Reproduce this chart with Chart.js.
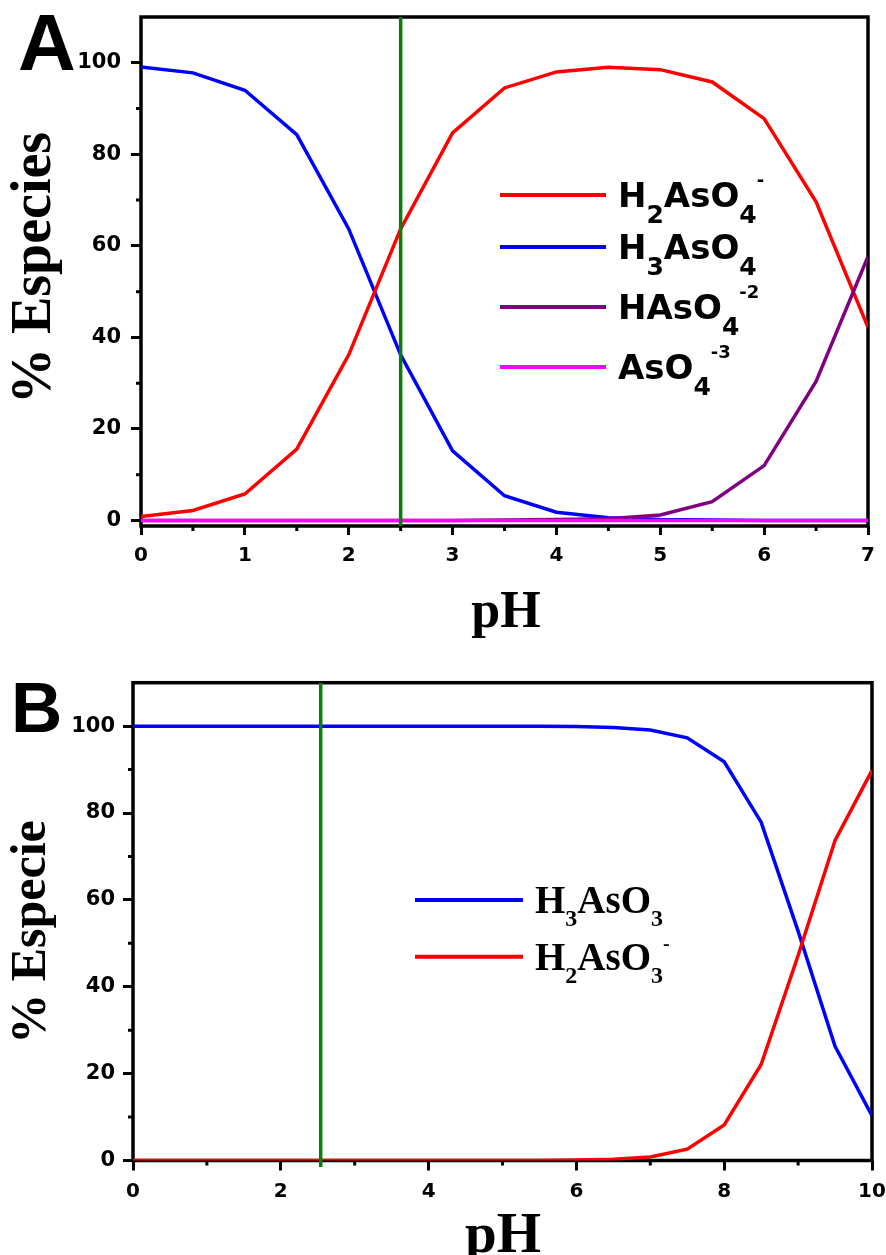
<!DOCTYPE html>
<html>
<head>
<meta charset="utf-8">
<title>Especies de arsénico vs pH</title>
<script src="https://cdn.jsdelivr.net/npm/chart.js@4.4.1/dist/chart.umd.min.js"></script>
<style>
  html, body { margin: 0; padding: 0; background: #fff; }
  #wrap { position: relative; width: 886px; height: 1255px; overflow: hidden; }
  canvas { position: absolute; left: 0; }
  #chartA { top: 0; }
  #chartB { top: 640px; }
</style>
</head>
<body>
<div id="wrap">
  <canvas id="chartA" width="886" height="640"></canvas>
  <canvas id="chartB" width="886" height="615"></canvas>
</div>
<script>
// ── DATI: arseniato (A) ─────────────────────
const phA = [0, 0.5, 1, 1.5, 2, 2.5, 3, 3.5, 4, 4.5, 5, 5.5, 6, 6.5, 7];
const h2aso4 = [0.9, 2.2, 5.8, 15.6, 36.2, 63.7, 84.7, 94.5, 98.0, 99.0, 98.5, 95.8, 87.8, 69.6, 42.2];
const h3aso4 = [99.1, 97.8, 94.0, 84.3, 63.7, 36.2, 15.2, 5.4, 1.8, 0.6, 0.2, 0.1, 0.0, 0.0, 0.0];
const haso4  = [0, 0, 0, 0, 0, 0, 0, 0.1, 0.2, 0.4, 1.2, 4.1, 12.0, 30.4, 57.7];
const aso4   = [0, 0, 0, 0, 0, 0, 0, 0, 0, 0, 0, 0, 0, 0, 0];
const markA  = { x: [2.5, 2.5], y: [-1.2, 110] };

const xTicksA = [0, 1, 2, 3, 4, 5, 6, 7];
const xMinorA = [0.5, 1.5, 2.5, 3.5, 4.5, 5.5, 6.5];
const yRangeA = [-1.2, 110];

// ── DATI: arsenito (B) ──────────────────────
const phB = [0, 0.5, 1, 1.5, 2, 2.5, 3, 3.5, 4, 4.5, 5, 5.5, 6, 6.5, 7, 7.5, 8, 8.5, 9, 9.5, 10];
const h3aso3 = [100, 100, 100, 100, 100, 100, 100, 100, 100, 100, 100, 100, 99.9, 99.7, 99.1, 97.3, 91.8, 77.9, 52.8, 26.3, 10.3];
const h2aso3 = [0, 0, 0, 0, 0, 0, 0, 0, 0, 0, 0, 0, 0.1, 0.3, 0.8, 2.6, 8.2, 22.1, 47.2, 73.7, 89.8];
const markB  = { x: [2.54, 2.54], y: [-1.5, 110] };

const xTicksB = [0, 2, 4, 6, 8, 10];
const xMinorB = [1, 3, 5, 7, 9];
const yRangeB = [0, 110];

const yTicks = [0, 20, 40, 60, 80, 100];
const yMinor = [10, 30, 50, 70, 90];

const SANS = '"DejaVu Sans", sans-serif';
const SERIF = '"Liberation Serif", "Times New Roman", serif';

// ── UTILITY ─────────────────────────────────

function pts(xs, ys) {
  return xs.map((x, i) => ({ x: x, y: ys[i] }));
}

function serie(label, xs, ys, color, order) {
  return {
    label: label,
    data: pts(xs, ys),
    borderColor: color,
    backgroundColor: color,
    borderWidth: 3.5,
    pointRadius: 0,
    tension: 0,
    order: order
  };
}

// testo con pedici / apici: parts = [[testo, 'sub'|'sup'|'']]
function drawFormula(ctx, parts, x, base, f) {
  let cx = x;
  parts.forEach(([t, kind]) => {
    const size = kind === 'sub' ? f.sub : kind === 'sup' ? f.sup : f.size;
    const dy = kind === 'sub' ? f.subDy : kind === 'sup' ? f.supDy : 0;
    ctx.font = 'bold ' + size + 'px ' + f.family;
    ctx.fillText(t, cx, base + dy);
    cx += ctx.measureText(t).width;
  });
}

// cornice, tacche minori, titoli, lettera e legenda
const panelPlugin = {
  id: 'panel',
  beforeDatasetsDraw(chart, args, o) {
    const { ctx, chartArea: a, scales: { x, y } } = chart;
    ctx.save();
    ctx.strokeStyle = '#000';
    ctx.lineWidth = 3.5;
    ctx.strokeRect(a.left, a.top, a.right - a.left, a.bottom - a.top);
    ctx.lineWidth = 3;
    ctx.beginPath();
    o.minorX.forEach(v => {
      const px = x.getPixelForValue(v);
      ctx.moveTo(px, a.bottom);
      ctx.lineTo(px, a.bottom + o.minorLen);
    });
    o.minorY.forEach(v => {
      const py = y.getPixelForValue(v);
      ctx.moveTo(a.left, py);
      ctx.lineTo(a.left - o.minorLen, py);
    });
    ctx.stroke();
    ctx.restore();
  },
  afterDraw(chart, args, o) {
    const { ctx } = chart;
    ctx.save();
    ctx.fillStyle = '#000';

    // lettera del pannello
    ctx.font = 'bold ' + o.letter.size + 'px "Liberation Sans", Arial, sans-serif';
    ctx.textAlign = 'left';
    ctx.textBaseline = 'alphabetic';
    ctx.fillText(o.letter.text, o.letter.x, o.letter.y);

    // titolo asse x
    ctx.font = 'bold ' + o.xTitle.size + 'px ' + SERIF;
    ctx.textAlign = 'center';
    ctx.fillText(o.xTitle.text, o.xTitle.x, o.xTitle.y);

    // titolo asse y
    ctx.save();
    ctx.translate(o.yTitle.x, o.yTitle.y);
    ctx.rotate(-Math.PI / 2);
    ctx.font = 'bold ' + o.yTitle.size + 'px ' + SERIF;
    ctx.fillText(o.yTitle.text, 0, 0);
    ctx.restore();

    // legenda
    const L = o.legend;
    ctx.textAlign = 'left';
    L.rows.forEach((r, i) => {
      const ly = L.lineY[i];
      ctx.strokeStyle = chart.data.datasets[r.ds].borderColor;
      ctx.lineWidth = 4;
      ctx.beginPath();
      ctx.moveTo(L.x0, ly);
      ctx.lineTo(L.x1, ly);
      ctx.stroke();
      ctx.fillStyle = '#000';
      drawFormula(ctx, r.parts, L.tx, ly + L.baseOff, L.font);
    });
    ctx.restore();
  }
};

function axisX(ticks, max, fontSize, tickLen, pad) {
  return {
    type: 'linear',
    min: 0,
    max: max,
    afterBuildTicks: s => { s.ticks = ticks.map(v => ({ value: v })); },
    afterFit: s => { s.height = 40; s.paddingLeft = 0; s.paddingRight = 0; },
    grid: { drawOnChartArea: false, drawTicks: true, tickLength: tickLen, tickWidth: 3, tickColor: '#000' },
    border: { display: false },
    ticks: { color: '#000', padding: pad, maxRotation: 0, autoSkip: false,
             font: { family: SANS, weight: 'bold', size: fontSize } }
  };
}

function axisY(range, width, fontSize, tickLen, pad) {
  return {
    type: 'linear',
    min: range[0],
    max: range[1],
    afterBuildTicks: s => { s.ticks = yTicks.map(v => ({ value: v })); },
    afterFit: s => { s.width = width; s.paddingTop = 0; s.paddingBottom = 0; },
    grid: { drawOnChartArea: false, drawTicks: true, tickLength: tickLen, tickWidth: 3, tickColor: '#000' },
    border: { display: false },
    ticks: { color: '#000', padding: pad, autoSkip: false,
             font: { family: SANS, weight: 'bold', size: fontSize } }
  };
}

function baseOptions(padding) {
  return {
    responsive: false,
    animation: false,
    devicePixelRatio: 1,
    layout: { padding: padding },
    plugins: { legend: { display: false }, tooltip: { enabled: false } }
  };
}

// ── GRAFICO A ───────────────────────────────

const optsA = baseOptions({ left: 0, right: 18, top: 17, bottom: 74 });
optsA.scales = {
  x: axisX(xTicksA, 7, 20, 9, 9),
  y: axisY(yRangeA, 141, 21, 10, 10)
};
optsA.plugins.panel = {
  minorX: xMinorA, minorY: yMinor, minorLen: 5,
  letter: { text: 'A', size: 80, x: 18, y: 70 },
  xTitle: { text: 'pH', size: 52, x: 506, y: 627 },
  yTitle: { text: '% Especies', size: 56, x: 50, y: 268 },
  legend: {
    x0: 500, x1: 606, tx: 618, baseOff: 12,
    lineY: [195, 247, 307, 367],
    font: { family: SANS, size: 34, sub: 25, subDy: 16, sup: 18, supDy: -21 },
    rows: [
      { ds: 0, parts: [['H', ''], ['2', 'sub'], ['AsO', ''], ['4', 'sub'], ['-', 'sup']] },
      { ds: 1, parts: [['H', ''], ['3', 'sub'], ['AsO', ''], ['4', 'sub']] },
      { ds: 2, parts: [['HAsO', ''], ['4', 'sub'], ['-2', 'sup']] },
      { ds: 3, parts: [['AsO', ''], ['4', 'sub'], ['-3', 'sup']] }
    ]
  }
};

new Chart(document.getElementById('chartA'), {
  type: 'line',
  data: {
    datasets: [
      serie('H2AsO4-', phA, h2aso4, '#ff0000', 3),
      serie('H3AsO4', phA, h3aso4, '#0000ff', 4),
      serie('HAsO4-2', phA, haso4, '#800080', 2),
      serie('AsO4-3', phA, aso4, '#ff00ff', 1),
      Object.assign(serie('pH', markA.x, markA.y, '#0a7d0a', 0), { clip: false })
    ]
  },
  options: optsA,
  plugins: [panelPlugin]
});

// ── GRAFICO B ───────────────────────────────

const optsB = baseOptions({ left: 0, right: 14, top: 42.7, bottom: 54.5 });
optsB.scales = {
  x: axisX(xTicksB, 10, 20, 10, 9),
  y: axisY(yRangeB, 133, 21, 10, 8)
};
optsB.plugins.panel = {
  minorX: xMinorB, minorY: yMinor, minorLen: 5,
  letter: { text: 'B', size: 71, x: 11, y: 92 },
  xTitle: { text: 'pH', size: 57, x: 503, y: 612 },
  yTitle: { text: '% Especie', size: 50, x: 45, y: 292 },
  legend: {
    x0: 415, x1: 523, tx: 535, baseOff: 13,
    lineY: [260, 316.7],
    font: { family: SERIF, size: 39, sub: 24, subDy: 13, sup: 20, supDy: -20 },
    rows: [
      { ds: 0, parts: [['H', ''], ['3', 'sub'], ['AsO', ''], ['3', 'sub']] },
      { ds: 1, parts: [['H', ''], ['2', 'sub'], ['AsO', ''], ['3', 'sub'], ['-', 'sup']] }
    ]
  }
};

new Chart(document.getElementById('chartB'), {
  type: 'line',
  data: {
    datasets: [
      serie('H3AsO3', phB, h3aso3, '#0000ff', 2),
      serie('H2AsO3-', phB, h2aso3, '#ff0000', 1),
      Object.assign(serie('pH', markB.x, markB.y, '#0a7d0a', 0), { clip: false })
    ]
  },
  options: optsB,
  plugins: [panelPlugin]
});
</script>
</body>
</html>
